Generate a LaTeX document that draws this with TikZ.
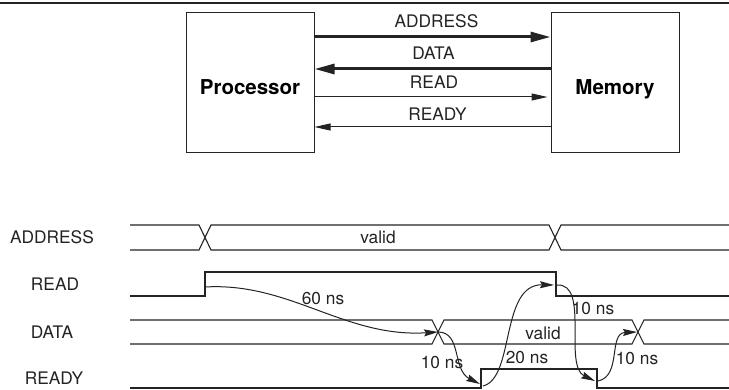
\documentclass[tikz,border=0pt]{standalone}
\usepackage{fontspec}
\setmainfont{TeX Gyre Heros}
\usetikzlibrary{positioning,arrows.meta,calc}
\definecolor{tinta}{RGB}{35,35,35}

\begin{document}
\begin{tikzpicture}[x=1pt, y=-1pt,
  bloque/.style={draw=tinta, line width=1pt, minimum width=128pt,
    minimum height=140pt, font=\fontsize{20.5}{24}\selectfont\bfseries,
    text height=24pt, text depth=0pt},
  etiq/.style={font=\fontsize{17.3}{20}\selectfont, text=tinta, inner sep=0pt},
  bus/.style={draw=tinta, line width=3pt,
    -{Triangle[length=20pt,width=10pt]}},
  linea/.style={draw=tinta, line width=1pt,
    -{Triangle[length=16pt,width=7pt]}},
  senal/.style={draw=tinta, line width=1.1pt},
  retardo/.style={draw=tinta, line width=1pt,
    -{Stealth[length=14pt,width=7pt,inset=2pt]}}
]
\useasboundingbox (0,0) rectangle (729,390);
% Regla superior
\draw[tinta, line width=2.5pt] (0,3) -- (729,3);
% Bloques
\node[bloque] (proc) at (250,83) {Processor};
\node[bloque] (mem) at (615,83) {Memory};
% Buses entre bloques
\draw[bus] ([yshift=46pt]proc.east) -- node[etiq, above=8pt, xshift=4pt] {ADDRESS}
  ([yshift=46pt]mem.west);
\draw[bus] ([yshift=14pt]mem.west) -- node[etiq, above=8pt, xshift=1pt] {DATA}
  ([yshift=14pt]proc.east);
\draw[linea] ([yshift=-14pt]proc.east) -- node[etiq, above=8pt, xshift=3pt] {READ}
  ([yshift=-14pt,xshift=-3pt]mem.west);
\draw[linea] ([yshift=-44pt]mem.west) -- node[etiq, above=6pt, xshift=5pt] {READY}
  ([yshift=-44pt]proc.east);
% Nombres de las senales
\node[etiq] (naddr) at (52,237) {ADDRESS};
\node[etiq] (nread) at (55,284) {READ};
\node[etiq] (ndata) at (52,332) {DATA};
\node[etiq] (nready) at (54,378) {READY};
% Formas de onda
\draw[senal] (130,225) -- (199,225) -- (211,250) -- (549,250) -- (561,225) -- (729,225);
\draw[senal] (130,250) -- (199,250) -- (211,225) -- (549,225) -- (561,250) -- (729,250);
\node[etiq] (vaddr) at (378,237) {valid};
\draw[senal] (130,296) -- (205,296) -- (205,272) -- (556,272) -- (556,296) -- (729,296);
\draw[senal] (130,320) -- (432,320) -- (444,344) -- (632,344) -- (644,320) -- (729,320);
\draw[senal] (130,344) -- (432,344) -- (444,320) -- (632,320) -- (644,344) -- (729,344);
\node[etiq] (vdata) at (543,333) {valid};
\draw[senal] (130,388) -- (481,388) -- (481,369) -- (597,369) -- (597,388) -- (729,388);
% Puntos de sincronizacion
\coordinate (readup) at (205,287);
\coordinate (datax1) at (438,332);
\coordinate (readyup) at (480,384);
\coordinate (readyup0) at (483,386);
\coordinate (readdn) at (554,285);
\coordinate (readdn0) at (557,285);
\coordinate (readydn) at (595,381);
\coordinate (readydn0) at (598,381);
\coordinate (datax2) at (637,332);
% Retardos
\draw[retardo] (readup) .. controls (290,282) and (345,338) .. (datax1);
\node[etiq] (t60) at (323,298) {60 ns};
\draw[retardo] (datax1) .. controls (462,332) and (452,370) .. (readyup);
\node[etiq] (t10a) at (442,362) {10 ns};
\draw[retardo] (readyup0) .. controls (515,378) and (500,284) .. (readdn);
\node[etiq] (t20) at (527,357) {20 ns};
\draw[retardo] (readdn0) .. controls (590,283) and (563,366) .. (readydn);
\node[etiq] (t10b) at (593,308) {10 ns};
\draw[retardo] (readydn0) .. controls (622,376) and (608,333) .. (datax2);
\node[etiq] (t10c) at (637,358) {10 ns};
\end{tikzpicture}
\end{document}
